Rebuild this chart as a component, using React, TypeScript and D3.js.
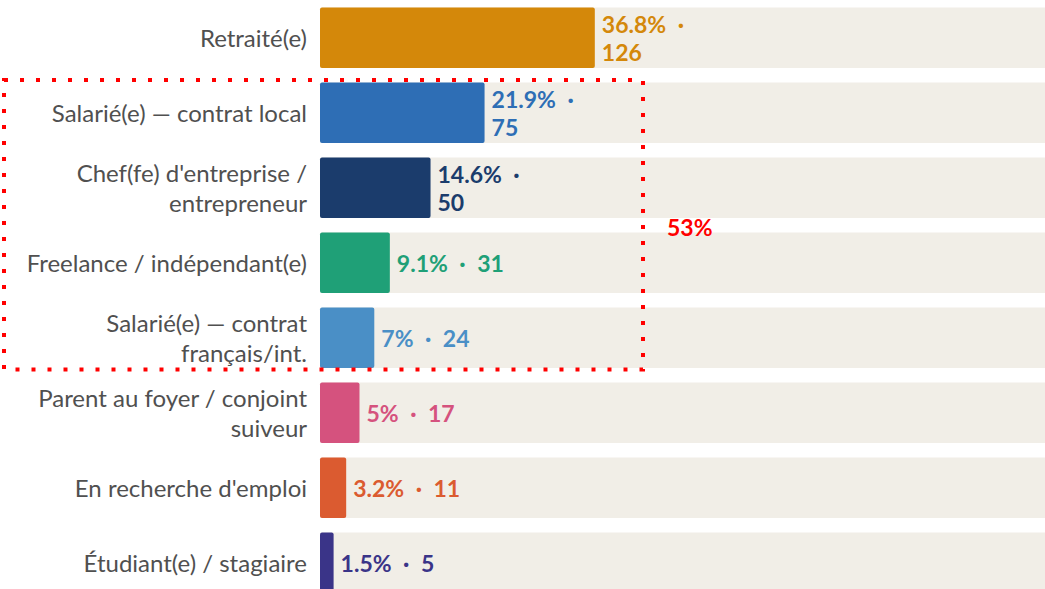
import React, { useRef, useEffect } from "react";
import * as d3 from "d3";

const categories = [
  "Retraité(e)",
  "Salarié(e) — contrat local",
  "Chef(fe) d'entreprise /\nentrepreneur",
  "Freelance / indépendant(e)",
  "Salarié(e) — contrat\nfrançais/int.",
  "Parent au foyer / conjoint\nsuiveur",
  "En recherche d'emploi",
  "Étudiant(e) / stagiaire",
];
const shares = [36.8, 21.9, 14.6, 9.1, 7, 5, 3.2, 1.5];
const counts = [126, 75, 50, 31, 24, 17, 11, 5];
const colors = [
  "#d4880a",
  "#2e6eb5",
  "#1b3c6c",
  "#1fa077",
  "#4a8fc6",
  "#d5527e",
  "#db5b30",
  "#3a3488",
];
// rows inside the dotted frame
const groupRows = [1, 2, 3, 4];
const groupLabel = "53%";

const FONT = "Lato, 'Open Sans', sans-serif";
const SEP = "\u2002·\u2002";

export default function App() {
  const chartRef = useRef<SVGSVGElement>(null);

  useEffect(() => {
    const svg = d3.select(chartRef.current);
    svg.selectAll("*").remove();

    const width = 1045;
    const height = 589;
    const left = 320;

    const y = d3
      .scaleBand<number>()
      .domain(d3.range(categories.length))
      .range([0.25, 600.25])
      .paddingInner(0.1933)
      .paddingOuter(0.0967);

    const x = d3.scaleLinear().domain([0, 100]).range([0, 740]);
    const barW = (p: number) => 2.5 + x(p);

    svg.attr("width", width).attr("height", height);

    const rows = svg
      .selectAll("g.row")
      .data(categories.map((c, i) => ({ c, i })))
      .enter()
      .append("g")
      .attr("class", "row")
      .attr("transform", (d) => `translate(0,${y(d.i)})`);

    const bh = y.bandwidth();

    rows
      .append("rect")
      .attr("x", left)
      .attr("y", 0)
      .attr("width", width - left + 4)
      .attr("height", bh)
      .attr("rx", 2)
      .style("fill", "#f1eee7");

    rows
      .append("rect")
      .attr("x", left)
      .attr("y", 0)
      .attr("width", (d) => barW(shares[d.i]))
      .attr("height", bh)
      .attr("rx", 2)
      .style("fill", (d) => colors[d.i]);

    // category labels
    rows.each(function (d) {
      const g = d3.select(this);
      const lines = d.c.split("\n");
      const lh = 30;
      const t = g
        .append("text")
        .attr("text-anchor", "end")
        .style("font-family", FONT)
        .style("font-size", "24px")
        .style("fill", "#505050");
      lines.forEach((l, k) => {
        t.append("tspan")
          .attr("x", 307)
          .attr("y", bh / 2 + (k - (lines.length - 1) / 2) * lh)
          .attr("dominant-baseline", "central")
          .text(l);
      });

      // value label
      const wrap = shares[d.i] > 10;
      const vl = wrap
        ? [`${shares[d.i]}%${SEP}`, `${counts[d.i]}`]
        : [`${shares[d.i]}%${SEP}${counts[d.i]}`];
      const v = g
        .append("text")
        .style("font-family", FONT)
        .style("font-size", "23px")
        .style("font-weight", 700)
        .style("fill", colors[d.i]);
      vl.forEach((l, k) => {
        v.append("tspan")
          .attr("x", left + barW(shares[d.i]) + 7)
          .attr("y", bh / 2 + (k - (vl.length - 1) / 2) * 28)
          .attr("dominant-baseline", "central")
          .text(l);
      });
    });

    // dotted frame around the group
    const top = y(groupRows[0])! - 2.5;
    const bottom = y(groupRows[groupRows.length - 1])! + bh + 1.5;
    svg
      .append("rect")
      .attr("x", 4)
      .attr("y", top)
      .attr("width", 639)
      .attr("height", bottom - top)
      .style("fill", "none")
      .style("stroke", "#ff0000")
      .style("stroke-width", 4)
      .style("stroke-dasharray", "4 12");

    svg
      .append("text")
      .attr("x", 667)
      .attr("y", (top + bottom) / 2 + 2)
      .attr("dominant-baseline", "central")
      .style("font-family", FONT)
      .style("font-size", "23px")
      .style("font-weight", 700)
      .style("fill", "#ff0000")
      .text(groupLabel);
  }, []);

  return (
    <div style={{ position: "fixed", left: 0, top: 0, width: 1045, height: 589, background: "#fff" }}>
      <svg ref={chartRef} style={{ display: "block" }}></svg>
    </div>
  );
}
